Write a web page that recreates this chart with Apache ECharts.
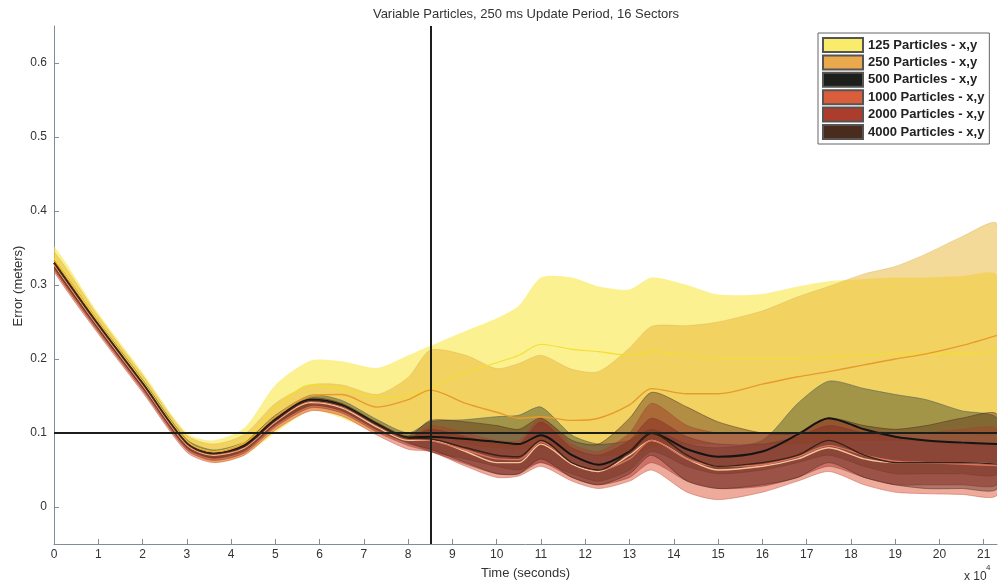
<!DOCTYPE html>
<html>
<head>
<meta charset="utf-8">
<script src="https://cdn.jsdelivr.net/npm/echarts@6/dist/echarts.min.js"></script>
<style>
  html, body { margin: 0; padding: 0; background: #fff; }
  #main { width: 998px; height: 585px; }
</style>
</head>
<body>
<div id="main"></div>
<script>
// time axis, units of 10^4 s
const times = [0, 1, 2, 3, 3.6, 4.3, 5, 5.8, 6.5, 7.3, 8, 8.5, 9.3, 10, 10.5, 11, 11.7, 12.3, 13, 13.5, 14.3, 15, 16, 16.8, 17.5, 18.3, 19, 19.7, 20.5, 21.3];

const p125Mean = [0.336, 0.25, 0.17, 0.089, 0.075, 0.088, 0.132, 0.165, 0.16, 0.148, 0.15, 0.16, 0.182, 0.195, 0.205, 0.22, 0.213, 0.21, 0.205, 0.21, 0.205, 0.2, 0.2, 0.2, 0.203, 0.205, 0.207, 0.207, 0.208, 0.21];
const p125Lo = [0.322, 0.238, 0.16, 0.078, 0.06, 0.07, 0.1, 0.13, 0.12, 0.1, 0.09, 0.09, 0.1, 0.1, 0.1, 0.11, 0.088, 0.082, 0.09, 0.1, 0.1, 0.1, 0.1, 0.1, 0.1, 0.1, 0.1, 0.1, 0.1, 0.1];
const p125Hi = [0.352, 0.262, 0.182, 0.1, 0.09, 0.107, 0.165, 0.198, 0.197, 0.188, 0.205, 0.218, 0.238, 0.255, 0.272, 0.31, 0.31, 0.298, 0.294, 0.31, 0.3, 0.287, 0.288, 0.298, 0.305, 0.308, 0.31, 0.31, 0.312, 0.313];

const p250Mean = [0.333, 0.248, 0.168, 0.088, 0.074, 0.086, 0.122, 0.15, 0.152, 0.135, 0.145, 0.158, 0.14, 0.128, 0.12, 0.122, 0.117, 0.12, 0.138, 0.16, 0.153, 0.153, 0.166, 0.176, 0.183, 0.192, 0.2, 0.207, 0.218, 0.232];
const p250Lo = [0.326, 0.242, 0.163, 0.082, 0.068, 0.079, 0.113, 0.14, 0.133, 0.107, 0.09, 0.1, 0.085, 0.08, 0.078, 0.08, 0.075, 0.07, 0.07, 0.08, 0.085, 0.085, 0.085, 0.085, 0.09, 0.09, 0.09, 0.09, 0.09, 0.09];
const p250Hi = [0.345, 0.258, 0.178, 0.097, 0.085, 0.098, 0.14, 0.165, 0.165, 0.152, 0.175, 0.212, 0.205, 0.187, 0.194, 0.205, 0.186, 0.183, 0.215, 0.244, 0.245, 0.25, 0.265, 0.284, 0.298, 0.315, 0.325, 0.342, 0.365, 0.382];

const p500Mean = [0.33, 0.246, 0.167, 0.086, 0.072, 0.083, 0.118, 0.145, 0.138, 0.112, 0.094, 0.095, 0.092, 0.088, 0.085, 0.097, 0.07, 0.057, 0.075, 0.1, 0.078, 0.068, 0.075, 0.098, 0.12, 0.105, 0.095, 0.09, 0.087, 0.085];
const p500Lo = [0.325, 0.241, 0.162, 0.081, 0.067, 0.078, 0.112, 0.139, 0.132, 0.106, 0.088, 0.075, 0.065, 0.055, 0.05, 0.06, 0.045, 0.035, 0.05, 0.075, 0.055, 0.045, 0.05, 0.06, 0.07, 0.055, 0.045, 0.045, 0.045, 0.045];
const p500Hi = [0.335, 0.251, 0.172, 0.091, 0.077, 0.088, 0.124, 0.151, 0.144, 0.118, 0.1, 0.115, 0.118, 0.122, 0.124, 0.135, 0.097, 0.085, 0.09, 0.105, 0.085, 0.08, 0.09, 0.14, 0.17, 0.16, 0.152, 0.145, 0.13, 0.12];

const p1000Mean = [0.328, 0.244, 0.165, 0.084, 0.07, 0.08, 0.115, 0.141, 0.134, 0.108, 0.09, 0.09, 0.075, 0.06, 0.06, 0.085, 0.058, 0.048, 0.07, 0.09, 0.065, 0.05, 0.055, 0.065, 0.08, 0.065, 0.06, 0.06, 0.06, 0.058];
const p1000Lo = [0.318, 0.234, 0.155, 0.074, 0.06, 0.07, 0.104, 0.13, 0.123, 0.097, 0.078, 0.075, 0.055, 0.04, 0.042, 0.055, 0.035, 0.025, 0.035, 0.05, 0.02, 0.01, 0.02, 0.035, 0.048, 0.03, 0.02, 0.018, 0.017, 0.016];
const p1000Hi = [0.331, 0.247, 0.168, 0.087, 0.073, 0.083, 0.118, 0.144, 0.137, 0.111, 0.093, 0.11, 0.1, 0.09, 0.09, 0.12, 0.085, 0.075, 0.1, 0.14, 0.11, 0.1, 0.1, 0.1, 0.12, 0.105, 0.1, 0.1, 0.105, 0.105];

const p2000Mean = [0.329, 0.245, 0.166, 0.085, 0.071, 0.081, 0.116, 0.143, 0.136, 0.11, 0.092, 0.09, 0.077, 0.065, 0.064, 0.088, 0.06, 0.05, 0.065, 0.09, 0.065, 0.055, 0.057, 0.068, 0.083, 0.07, 0.062, 0.06, 0.058, 0.056];
const p2000Lo = [0.321, 0.237, 0.158, 0.077, 0.063, 0.073, 0.108, 0.134, 0.127, 0.101, 0.083, 0.075, 0.058, 0.045, 0.045, 0.06, 0.04, 0.03, 0.04, 0.06, 0.035, 0.025, 0.028, 0.04, 0.055, 0.04, 0.03, 0.03, 0.03, 0.03];
const p2000Hi = [0.331, 0.247, 0.168, 0.087, 0.073, 0.083, 0.118, 0.145, 0.138, 0.112, 0.094, 0.105, 0.095, 0.085, 0.085, 0.115, 0.08, 0.07, 0.09, 0.12, 0.095, 0.085, 0.085, 0.095, 0.11, 0.1, 0.095, 0.09, 0.085, 0.082];

const p4000Mean = [0.33, 0.246, 0.167, 0.086, 0.072, 0.082, 0.117, 0.144, 0.137, 0.111, 0.093, 0.092, 0.08, 0.07, 0.068, 0.09, 0.06, 0.05, 0.075, 0.1, 0.07, 0.055, 0.06, 0.07, 0.09, 0.07, 0.06, 0.06, 0.06, 0.058];
const p4000Lo = [0.324, 0.24, 0.161, 0.08, 0.066, 0.076, 0.111, 0.137, 0.13, 0.104, 0.086, 0.078, 0.06, 0.045, 0.045, 0.065, 0.04, 0.03, 0.045, 0.07, 0.035, 0.025, 0.03, 0.04, 0.06, 0.04, 0.03, 0.025, 0.025, 0.025];
const p4000Hi = [0.332, 0.248, 0.169, 0.088, 0.074, 0.084, 0.12, 0.147, 0.14, 0.114, 0.096, 0.117, 0.115, 0.11, 0.105, 0.12, 0.09, 0.085, 0.12, 0.155, 0.135, 0.115, 0.1, 0.1, 0.12, 0.11, 0.105, 0.11, 0.12, 0.125];

const legendNames = ['125 Particles - x,y', '250 Particles - x,y', '500 Particles - x,y', '1000 Particles - x,y', '2000 Particles - x,y', '4000 Particles - x,y'];
const xTicks = [0, 1, 2, 3, 4, 5, 6, 7, 8, 9, 10, 11, 12, 13, 14, 15, 16, 17, 18, 19, 20, 21];
const yTicks = [0, 0.1, 0.2, 0.3, 0.4, 0.5, 0.6];

// reference lines
const markTime = 8.5;
const markError = 0.1;

const groups = [
  {lo: p125Lo, hi: p125Hi, mean: p125Mean},
  {lo: p250Lo, hi: p250Hi, mean: p250Mean},
  {lo: p500Lo, hi: p500Hi, mean: p500Mean},
  {lo: p1000Lo, hi: p1000Hi, mean: p1000Mean},
  {lo: p2000Lo, hi: p2000Hi, mean: p2000Mean},
  {lo: p4000Lo, hi: p4000Hi, mean: p4000Mean},
];

const fills = ['rgba(250,232,70,0.6)', 'rgba(232,182,50,0.5)', 'rgba(55,65,35,0.42)', 'rgba(222,85,55,0.5)', 'rgba(165,45,40,0.45)', 'rgba(80,40,25,0.4)'];
const edges = ['rgba(240,220,80,0)', 'rgba(220,175,90,0.5)', 'rgba(90,100,95,0.8)', 'rgba(200,90,70,0.6)', 'rgba(150,60,50,0.6)', 'rgba(70,40,30,0.6)'];
const swatches = ['#f8ec6a', '#e9a94c', '#1d1f1a', '#db5e3c', '#ac3d2c', '#4a2c1e'];
const meanColors = ['#f3de30', '#e89a2c', '#141414', '#f4c49a', '#d8735e', '#3a2216'];

const chart = echarts.init(document.getElementById('main'));

const series = [];
// shaded bands, drawn as polygons through the axes
groups.forEach((g, i) => {
  series.push({
    type: 'custom',
    name: legendNames[i],
    data: [[times[0], g.lo[0]]],
    clip: true,
    silent: true,
    itemStyle: {color: swatches[i], borderColor: '#555', borderWidth: 1},
    renderItem: (params, api) => {
      const upper = times.map((t, k) => api.coord([t, g.hi[k]]));
      const lower = times.map((t, k) => api.coord([t, g.lo[k]])).reverse();
      return {
        type: 'polygon',
        shape: {points: upper.concat(lower), smooth: 0.25},
        style: {fill: fills[i], stroke: edges[i], lineWidth: 0.8}
      };
    }
  });
});
groups.forEach((g, i) => {
  series.push({
    type: 'line',
    name: 'mean' + i,
    data: times.map((t, k) => [t, g.mean[k]]),
    smooth: 0.3,
    symbol: 'none',
    silent: true,
    z: 3,
    lineStyle: {width: i === 2 ? 2 : (i === 0 ? 1.1 : 1.4), color: meanColors[i]},
  });
});
// markers at 8.5 s and 0.1 m
series.push({
  type: 'line',
  name: 'marks',
  data: [],
  z: 5,
  markLine: {
    silent: true,
    symbol: ['none', 'none'],
    label: {show: false},
    lineStyle: {color: '#1b1f1c', width: 2, type: 'solid'},
    data: [{xAxis: markTime}, {yAxis: markError}]
  }
});

const option = {
  backgroundColor: '#ffffff',
  animation: false,
  textStyle: {fontFamily: 'Liberation Sans, Arial, sans-serif'},
  title: {
    text: 'Variable Particles, 250 ms Update Period, 16 Sectors',
    left: 521,
    top: 3,
    textAlign: 'center',
    textStyle: {fontSize: 13, fontWeight: 'normal', color: '#333'}
  },
  grid: {left: 54, right: 1, top: 26, bottom: 39},
  legend: {
    data: legendNames,
    orient: 'vertical',
    left: 818,
    top: 33,
    padding: [4, 5, 4, 4],
    itemGap: 1.4,
    itemWidth: 40,
    itemHeight: 14,
    icon: 'rect',
    borderColor: '#666',
    borderWidth: 1,
    backgroundColor: '#fff',
    selectedMode: false,
    textStyle: {fontSize: 13, color: '#222', fontWeight: 'bold'}
  },
  xAxis: {
    type: 'value',
    min: 0,
    max: 21.3,
    name: 'Time (seconds)',
    nameLocation: 'middle',
    nameGap: 23,
    nameTextStyle: {fontSize: 13, color: '#333'},
    splitLine: {show: false},
    axisLine: {onZero: false, lineStyle: {color: '#7d8d99'}},
    axisTick: {inside: true, length: 5, customValues: xTicks, lineStyle: {color: '#7d8d99'}},
    axisLabel: {fontSize: 12, color: '#333', margin: 5, customValues: xTicks, formatter: v => String(v)}
  },
  yAxis: {
    type: 'value',
    min: -0.05,
    max: 0.65,
    splitLine: {show: false},
    axisLine: {show: true, lineStyle: {color: '#7d8d99'}},
    axisTick: {show: true, inside: true, length: 5, customValues: yTicks, lineStyle: {color: '#7d8d99'}},
    axisLabel: {fontSize: 12, color: '#333', margin: 7, customValues: yTicks, formatter: v => v === 0 ? '0' : v.toFixed(1)}
  },
  graphic: [
    {
      type: 'text',
      x: 18, y: 286,
      rotation: Math.PI / 2,
      style: {text: 'Error (meters)', font: '13px Liberation Sans, Arial', fill: '#333', align: 'center', verticalAlign: 'middle'}
    },
    {
      type: 'text',
      x: 964, y: 571,
      style: {text: 'x 10', font: '12px Liberation Sans, Arial', fill: '#333'}
    },
    {
      type: 'text',
      x: 986, y: 564,
      style: {text: '4', font: '8px Liberation Sans, Arial', fill: '#333'}
    }
  ],
  series: series
};

chart.setOption(option);
</script>
</body>
</html>
